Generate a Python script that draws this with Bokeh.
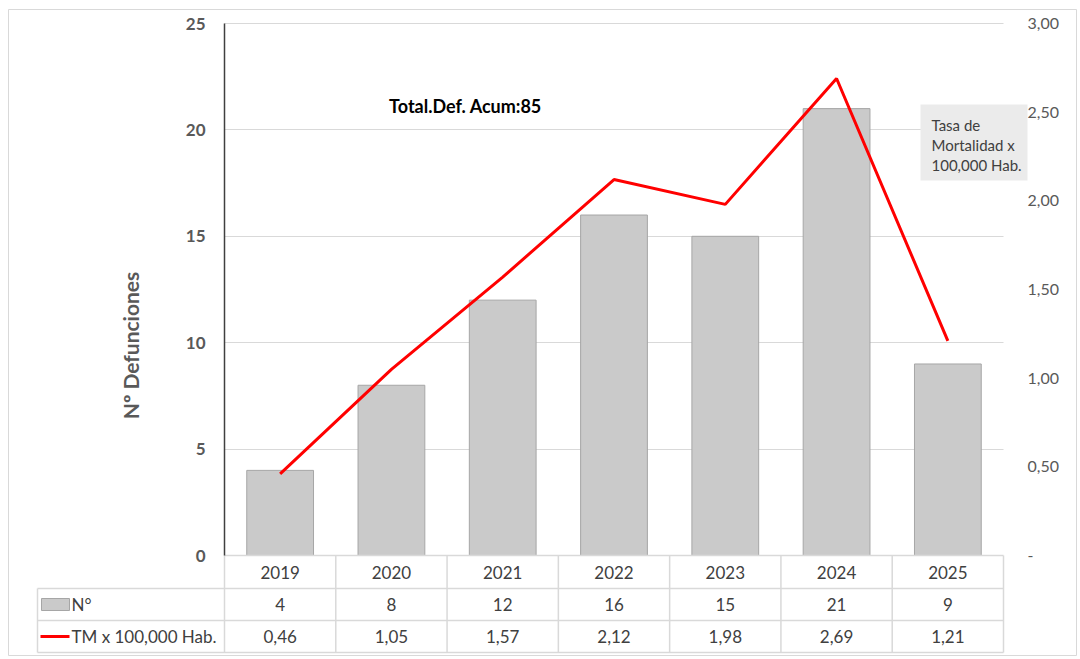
import numpy as np
from bokeh.plotting import figure
from bokeh.models import (Range1d, LinearAxis, FixedTicker, CustomJSTickFormatter,
                          Label, BoxAnnotation, Grid)
from bokeh.core.properties import value
from bokeh.embed import file_html
from bokeh.resources import INLINE

# ---------------- data ----------------
years = ["2019", "2020", "2021", "2022", "2023", "2024", "2025"]
deaths = [4, 8, 12, 16, 15, 21, 9]
tm_rate = [0.46, 1.05, 1.57, 2.12, 1.98, 2.69, 1.21]
left_ticks = [0, 5, 10, 15, 20, 25]
right_ticks = [0, 0.5, 1.0, 1.5, 2.0, 2.5, 3.0]
y_title = "Nº Defunciones"
total_text = "Total.Def. Acum:85"
row_labels = ["N°", "TM x 100,000 Hab."]
note_lines = ["Tasa de", "Mortalidad x", "100,000 Hab."]

# ---------------- layout helpers (pixel geometry of the reference) ----------------
W, H = 1080, 659
FL, FR, FT, FB = 8, 1076, 9, 655          # frame (outer chart border)
AX0, AX7 = 224, 1003                       # category band
CW = (AX7 - AX0) / len(years)
PY0, PY25 = 555, 23
UNIT = (PY0 - PY25) / 25.0
LEFT_MAX = 25.0
RIGHT_MAX = 3.0

def px_x(px):
    return (px - AX0) / CW

def px_y(py):
    return (PY0 - py) / UNIT

x_start, x_end = px_x(FL), px_x(FR)
y_start, y_end = px_y(FB), px_y(FT)
ratio = RIGHT_MAX / LEFT_MAX

FONT = "Lato"
TXT = "#404040"
GRID = "#d9d9d9"

p = figure(width=W, height=H, output_backend="svg", toolbar_location=None,
           x_range=Range1d(x_start, x_end), y_range=Range1d(y_start, y_end),
           x_axis_location=None, y_axis_location=None,
           min_border_left=FL, min_border_right=W - FR, min_border_top=FT,
           min_border_bottom=H - FB)
p.grid.visible = False
p.outline_line_color = GRID
p.outline_line_width = 1
p.background_fill_color = "white"
p.border_fill_color = "white"
p.extra_y_ranges = {"tm": Range1d(y_start * ratio, y_end * ratio)}

n = len(years)
xc = [i + 0.5 for i in range(n)]

# horizontal gridlines
g = Grid(dimension=1, ticker=FixedTicker(ticks=left_ticks[1:]),
         grid_line_color=GRID, grid_line_width=1, cross_bounds=(0, n))
p.add_layout(g)

# bars
p.vbar(x=xc, top=deaths, bottom=0, width=0.6,
       fill_color="#cacaca", line_color="#a6a6a6", line_width=1)

# line on secondary axis
p.line(x=xc, y=tm_rate, y_range_name="tm", line_color="#ff0000", line_width=3)

# left axis
ax_l = LinearAxis(fixed_location=0, bounds=(0, LEFT_MAX),
                  ticker=FixedTicker(ticks=left_ticks),
                  major_tick_line_color=None, minor_tick_line_color=None,
                  major_tick_in=0, major_tick_out=0,
                  axis_line_color="#404040", axis_line_width=1.5,
                  major_label_standoff=19,
                  major_label_text_font=FONT, major_label_text_font_size="17px",
                  major_label_text_font_style="bold",
                  major_label_text_color="#595959")
p.add_layout(ax_l, "left")

# right axis
ax_r = LinearAxis(y_range_name="tm", fixed_location=n, bounds=(0, RIGHT_MAX),
                  ticker=FixedTicker(ticks=right_ticks),
                  formatter=CustomJSTickFormatter(
                      code='return tick == 0 ? "-" : tick.toFixed(2).replace(".", ",");'),
                  major_tick_line_color=None, minor_tick_line_color=None,
                  major_tick_in=0, major_tick_out=0,
                  axis_line_color=None,
                  major_label_standoff=24,
                  major_label_text_font=FONT, major_label_text_font_size="16px",
                  major_label_text_color="#595959")
p.add_layout(ax_r, "right")

# ---------------- data table below ----------------
row_top = px_y(PY0)
row1 = px_y(588)
row2 = px_y(620)
row3 = px_y(652)
label_left = px_x(37)

# horizontal table lines
p.segment(x0=[0, label_left, label_left, label_left], x1=[n, n, n, n],
          y0=[row_top, row1, row2, row3], y1=[row_top, row1, row2, row3],
          line_color=GRID, line_width=1.5)
# vertical table lines
vx = list(range(n + 1))
p.segment(x0=vx, x1=vx, y0=[row_top] * len(vx), y1=[row3] * len(vx),
          line_color=GRID, line_width=1.5)
p.segment(x0=[label_left], x1=[label_left], y0=[row1], y1=[row3],
          line_color=GRID, line_width=1.5)

ymid_year = (row_top + row1) / 2
ymid_n = (row1 + row2) / 2
ymid_tm = (row2 + row3) / 2

txt_kw = dict(text_align="center", text_baseline="middle",
              text_font=value(FONT), text_font_size="17px", text_color=TXT)
p.text(x=xc, y=[ymid_year] * n, text=years, **txt_kw)
p.text(x=xc, y=[ymid_n] * n, text=[str(v) for v in deaths], **txt_kw)
p.text(x=xc, y=[ymid_tm] * n,
       text=[f"{v:.2f}".replace(".", ",") for v in tm_rate], **txt_kw)

# legend keys and row labels
p.quad(left=[px_x(41)], right=[px_x(69)], top=[px_y(598)], bottom=[px_y(610)],
       fill_color="#cacaca", line_color="#a6a6a6")
p.segment(x0=[px_x(40)], x1=[px_x(69)], y0=[ymid_tm], y1=[ymid_tm],
          line_color="#ff0000", line_width=3)
lbl_kw = dict(text_align="left", text_baseline="middle",
              text_font=value(FONT), text_font_size="17px", text_color=TXT)
p.text(x=[px_x(71), px_x(71)], y=[ymid_n, ymid_tm], text=row_labels, **lbl_kw)

# ---------------- annotations ----------------
p.add_layout(Label(x=px_x(130), y=px_y(345), text=y_title, angle=np.pi / 2,
                   text_align="center", text_baseline="middle",
                   text_font=FONT, text_font_size="21px", text_font_style="bold",
                   text_color="#595959"))
p.add_layout(Label(x=px_x(465), y=px_y(105), text=total_text,
                   text_align="center", text_baseline="middle",
                   text_font=FONT, text_font_size="18px", text_font_style="bold",
                   text_color="#000000"))
p.add_layout(BoxAnnotation(left=px_x(920), right=px_x(1027), top=px_y(104),
                           bottom=px_y(180), fill_color="#ebebeb", fill_alpha=1,
                           line_color=None))
for txt, py in zip(note_lines, [124, 144, 164]):
    p.add_layout(Label(x=px_x(931), y=px_y(py), text=txt,
                       text_align="left", text_baseline="middle",
                       text_font=FONT, text_font_size="15px", text_color=TXT))

open("out.html", "w").write(file_html(p, INLINE))
